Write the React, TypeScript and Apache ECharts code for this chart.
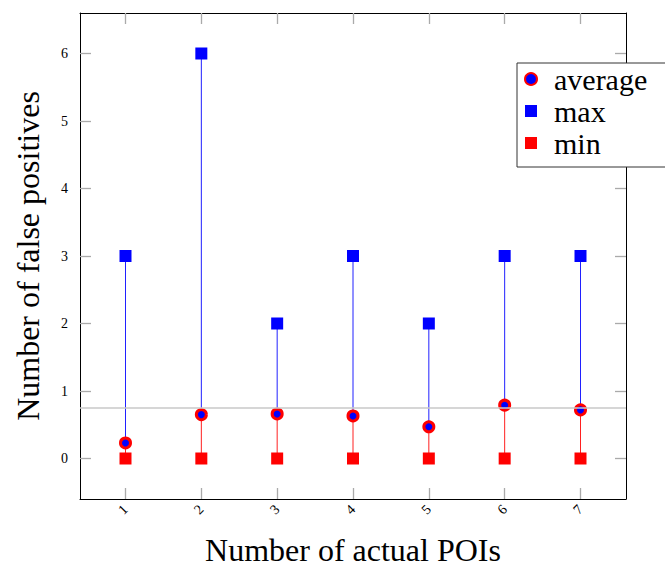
import React, { useEffect, useRef } from "react";
import * as echarts from "echarts";

const categories = [1, 2, 3, 4, 5, 6, 7];
const avgValues = [0.23, 0.65, 0.66, 0.63, 0.47, 0.79, 0.72];
const maxValues = [3, 6, 2, 3, 2, 3, 3];
const minValues = [0, 0, 0, 0, 0, 0, 0];
const yTicks = [0, 1, 2, 3, 4, 5, 6];
const refLineValue = 0.75;

const SERIF = "'Liberation Serif', 'DejaVu Serif', serif";

export default function App() {
  const ref = useRef<HTMLDivElement>(null);

  useEffect(() => {
    if (!ref.current) return;
    const chart = echarts.init(ref.current, undefined, { renderer: "svg" });

    const tickStyle = { show: true, inside: true, length: 11, lineStyle: { color: "#aaa", width: 1.3 } };
    const lineStyle = { show: true, onZero: false, lineStyle: { color: "#000", width: 1 } };

    const stemData = categories.map((c, i) => [c, minValues[i], avgValues[i], maxValues[i]]);

    chart.setOption({
      animation: false,
      grid: { left: 80, right: 39, top: 13, bottom: 68, containLabel: false, outerBoundsMode: "none" },
      legend: {
        orient: "vertical",
        left: 517,
        top: 63,
        padding: [1, 30, 9, 7],
        itemWidth: 12,
        itemHeight: 12,
        itemGap: 2,
        borderColor: "#333",
        borderWidth: 1,
        backgroundColor: "#fff",
        textStyle: { fontFamily: SERIF, fontSize: 30, color: "#000", lineHeight: 30, padding: [0, 0, 0, 12] },
        data: [
          { name: "average", icon: "circle" },
          { name: "max", icon: "rect" },
          { name: "min", icon: "rect" },
        ],
      },
      xAxis: [
        {
          type: "value",
          position: "bottom",
          min: 0.4,
          max: 7.6,
          axisLine: lineStyle,
          axisTick: { ...tickStyle, customValues: categories },
          axisLabel: { customValues: categories, rotate: 45, fontFamily: SERIF, fontSize: 14, color: "#000", margin: 8 },
          splitLine: { show: false },
          name: "Number of actual POIs",
          nameLocation: "middle",
          nameGap: 35,
          nameTextStyle: { fontFamily: SERIF, fontSize: 32, color: "#000" },
        },
        {
          type: "value",
          position: "top",
          min: 0.4,
          max: 7.6,
          axisLine: lineStyle,
          axisTick: { ...tickStyle, customValues: categories },
          axisLabel: { show: false },
          splitLine: { show: false },
        },
      ],
      yAxis: [
        {
          type: "value",
          position: "left",
          min: -0.6,
          max: 6.6,
          axisLine: lineStyle,
          axisTick: { ...tickStyle, customValues: yTicks },
          axisLabel: { customValues: yTicks, fontFamily: SERIF, fontSize: 14, color: "#000", margin: 12 },
          splitLine: { show: false },
          name: "Number of false positives",
          nameLocation: "middle",
          nameGap: 36,
          nameRotate: 90,
          nameTextStyle: { fontFamily: SERIF, fontSize: 32, color: "#000" },
        },
        {
          type: "value",
          position: "right",
          min: -0.6,
          max: 6.6,
          axisLine: lineStyle,
          axisTick: { ...tickStyle, customValues: yTicks },
          axisLabel: { show: false },
          splitLine: { show: false },
        },
      ],
      series: [
        {
          name: "ref",
          type: "line",
          data: [],
          z: 1,
          markLine: {
            silent: true,
            symbol: "none",
            label: { show: false },
            lineStyle: { type: "solid", color: "#c8c8c8", width: 1.5 },
            data: [{ yAxis: refLineValue }],
          },
        },
        {
          name: "stems",
          type: "custom",
          z: 2,
          data: stemData,
          encode: { x: 0, y: [1, 2, 3] },
          renderItem: (params: any, api: any) => {
            const x = api.value(0);
            const p0 = api.coord([x, api.value(1)]);
            const p1 = api.coord([x, api.value(2)]);
            const p2 = api.coord([x, api.value(3)]);
            return {
              type: "group",
              children: [
                {
                  type: "line",
                  shape: { x1: p0[0], y1: p0[1], x2: p1[0], y2: p1[1] },
                  style: { stroke: "#ff2020", lineWidth: 1 },
                },
                {
                  type: "line",
                  shape: { x1: p1[0], y1: p1[1], x2: p2[0], y2: p2[1] },
                  style: { stroke: "#2020ff", lineWidth: 1 },
                },
              ],
            };
          },
        },
        {
          name: "min",
          type: "scatter",
          z: 3,
          symbol: "rect",
          symbolSize: 12,
          itemStyle: { color: "#ff0000", opacity: 1 },
          data: categories.map((c, i) => [c, minValues[i]]),
        },
        {
          name: "max",
          type: "scatter",
          z: 3,
          symbol: "rect",
          symbolSize: 12,
          itemStyle: { color: "#0000ff", opacity: 1 },
          data: categories.map((c, i) => [c, maxValues[i]]),
        },
        {
          name: "average",
          type: "scatter",
          z: 4,
          symbol: "circle",
          symbolSize: 10,
          itemStyle: { color: "#0000ff", borderColor: "#ff0000", borderWidth: 3, opacity: 1 },
          data: categories.map((c, i) => [c, avgValues[i]]),
        },
      ],
    });

    return () => chart.dispose();
  }, []);

  return <div ref={ref} style={{ position: "fixed", left: 0, top: 0, width: 665, height: 567, background: "#fff" }} />;
}
